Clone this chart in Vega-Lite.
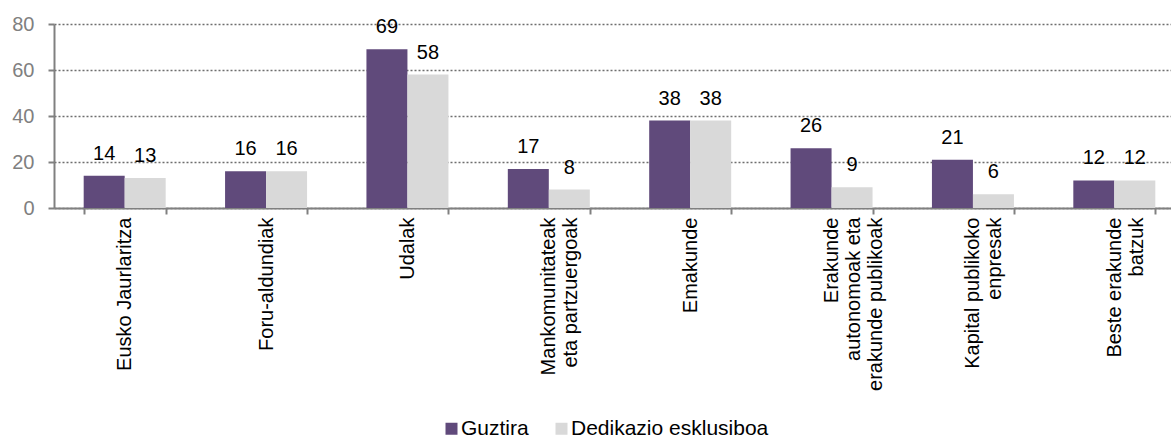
{
  "$schema": "https://vega.github.io/schema/vega-lite/v6.json",
  "width": 1131,
  "height": 184,
  "autosize": "none",
  "padding": {"left": 54, "top": 24, "right": 0, "bottom": 231},
  "config": {
    "view": {"stroke": null},
    "font": "Liberation Sans",
    "axis": {"labelFont": "Liberation Sans", "titleFont": "Liberation Sans"},
    "legend": {"labelFont": "Liberation Sans"}
  },
  "data": {
    "values": [
      {"category": "Eusko Jaurlaritza", "series": "Guztira", "value": 14},
      {"category": "Eusko Jaurlaritza", "series": "Dedikazio esklusiboa", "value": 13},
      {"category": "Foru-aldundiak", "series": "Guztira", "value": 16},
      {"category": "Foru-aldundiak", "series": "Dedikazio esklusiboa", "value": 16},
      {"category": "Udalak", "series": "Guztira", "value": 69},
      {"category": "Udalak", "series": "Dedikazio esklusiboa", "value": 58},
      {"category": "Mankomunitateak|eta partzuergoak", "series": "Guztira", "value": 17},
      {"category": "Mankomunitateak|eta partzuergoak", "series": "Dedikazio esklusiboa", "value": 8},
      {"category": "Emakunde", "series": "Guztira", "value": 38},
      {"category": "Emakunde", "series": "Dedikazio esklusiboa", "value": 38},
      {"category": "Erakunde|autonomoak eta|erakunde publikoak", "series": "Guztira", "value": 26},
      {"category": "Erakunde|autonomoak eta|erakunde publikoak", "series": "Dedikazio esklusiboa", "value": 9},
      {"category": "Kapital publikoko|enpresak", "series": "Guztira", "value": 21},
      {"category": "Kapital publikoko|enpresak", "series": "Dedikazio esklusiboa", "value": 6},
      {"category": "Beste erakunde|batzuk", "series": "Guztira", "value": 12},
      {"category": "Beste erakunde|batzuk", "series": "Dedikazio esklusiboa", "value": 12}
    ]
  },
  "encoding": {
    "x": {
      "field": "category",
      "type": "nominal",
      "sort": null,
      "title": null,
      "scale": {"paddingInner": 0.42, "paddingOuter": 0.21},
      "axis": {
        "labelExpr": "split(datum.label, '|')",
        "labelAngle": -90,
        "labelAlign": "right",
        "labelBaseline": "middle",
        "labelFontSize": 20,
        "labelColor": "#000000",
        "labelLineHeight": 22,
        "labelLimit": 0,
        "labelPadding": 3,
        "tickBand": "extent",
        "tickSize": 6,
        "tickWidth": 2,
        "tickColor": "#808080",
        "domainColor": "#808080",
        "domainWidth": 2,
        "grid": false
      }
    },
    "xOffset": {"field": "series", "type": "nominal", "sort": ["Guztira", "Dedikazio esklusiboa"]},
    "y": {
      "field": "value",
      "type": "quantitative",
      "title": null,
      "scale": {"domain": [0, 80]},
      "axis": {
        "values": [0, 20, 40, 60, 80],
        "labelFontSize": 20,
        "labelColor": "#808080",
        "labelPadding": 14,
        "tickSize": 6,
        "tickWidth": 2,
        "tickColor": "#808080",
        "domainColor": "#808080",
        "domainWidth": 2,
        "grid": true,
        "gridColor": "#6e6e6e",
        "gridDash": [2, 2],
        "gridWidth": 1.5
      }
    }
  },
  "layer": [
    {
      "mark": {"type": "bar"},
      "encoding": {
        "color": {
          "field": "series",
          "type": "nominal",
          "sort": ["Guztira", "Dedikazio esklusiboa"],
          "scale": {"domain": ["Guztira", "Dedikazio esklusiboa"], "range": ["#604A7B", "#D9D9D9"]},
          "legend": {
            "title": null,
            "orient": "none",
            "direction": "horizontal",
            "legendX": 387,
            "legendY": 394,
            "symbolType": "square",
            "symbolSize": 144,
            "symbolStrokeWidth": 0,
            "labelFontSize": 21,
            "labelColor": "#000000",
            "labelOffset": -1,
            "labelLimit": 0,
            "columnPadding": 22,
            "padding": 0
          }
        }
      }
    },
    {
      "mark": {"type": "text", "baseline": "alphabetic", "dy": -16, "fontSize": 20, "color": "#000000"},
      "encoding": {"text": {"field": "value", "type": "quantitative"}}
    }
  ]
}
